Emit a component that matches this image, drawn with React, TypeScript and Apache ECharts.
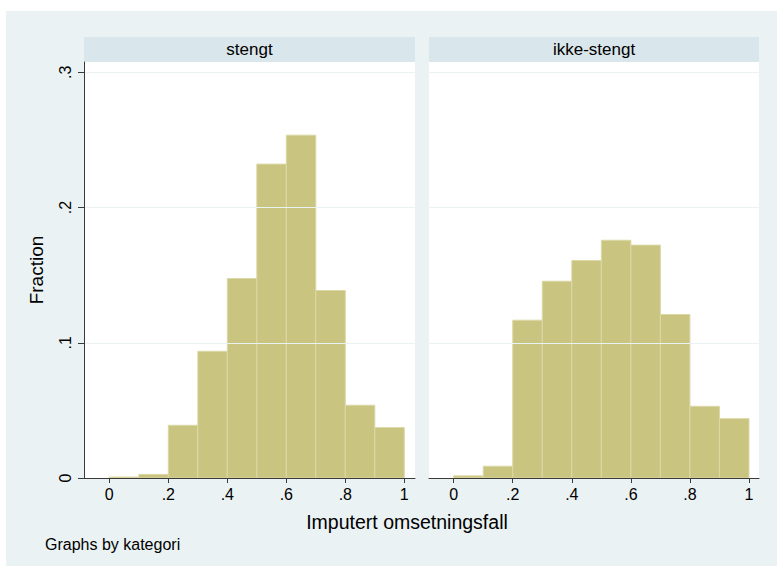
import { useEffect, useRef } from "react";
import * as echarts from "echarts";

// Histogram of imputed turnover drop, one panel per category
const panelTitles = ["stengt", "ikke-stengt"];
const binStarts = [0, 0.1, 0.2, 0.3, 0.4, 0.5, 0.6, 0.7, 0.8, 0.9];
const binEnds = [0.1, 0.2, 0.3, 0.4, 0.5, 0.6, 0.7, 0.8, 0.9, 1.0];
const stengtFraction = [0.0007, 0.0027, 0.039, 0.0937, 0.1475, 0.2321, 0.2535, 0.1386, 0.0538, 0.0373];
const ikkeStengtFraction = [0.0016, 0.0087, 0.1167, 0.1455, 0.1608, 0.1758, 0.1722, 0.1209, 0.053, 0.0439];
const xTicks = [0, 0.2, 0.4, 0.6, 0.8, 1];
const yTicks = [0, 0.1, 0.2, 0.3];
const xTitle = "Imputert omsetningsfall";
const yTitle = "Fraction";
const noteText = "Graphs by kategori";

const FONT = "'Liberation Sans', Arial, Helvetica, sans-serif";
const BG = "#EAF2F3";
const STRIP = "#D9E6EB";
const BAR_FILL = "#C9C47F";
const BAR_EDGE = "#DCD8A8";
const AXIS = "#3a3a3a";

const trimZero = (v: number) => {
  const s = String(Math.round(v * 10) / 10);
  return s.startsWith("0.") ? s.slice(1) : s;
};

const panelData = (values: number[]) =>
  values.map((v, i) => [binStarts[i], binEnds[i], v]);

export default function App() {
  const ref = useRef<HTMLDivElement>(null);

  useEffect(() => {
    if (!ref.current) return;
    const chart = echarts.init(ref.current, null, { renderer: "svg" });

    const grids = [
      { left: 84, top: 62, width: 331, height: 416 },
      { left: 429, top: 62, width: 330, height: 416 },
    ];
    const xRanges = [
      [-0.0858, 1.0362],
      [-0.0836, 1.0339],
    ];
    const series = [stengtFraction, ikkeStengtFraction];

    const option: any = {
      animation: false,
      backgroundColor: "#ffffff",
      textStyle: { fontFamily: FONT },
      grid: grids.map((g) => ({
        ...g,
        show: true,
        backgroundColor: "#ffffff",
        borderWidth: 0,
      })),
      xAxis: grids.map((_, i) => ({
        type: "value",
        gridIndex: i,
        min: xRanges[i][0],
        max: xRanges[i][1],
        z: 5,
        axisLine: { show: true, onZero: false, lineStyle: { color: AXIS, width: 1 } },
        axisTick: {
          show: true,
          inside: false,
          length: 5,
          customValues: xTicks,
          lineStyle: { color: AXIS, width: 1 },
        },
        axisLabel: {
          show: true,
          customValues: xTicks,
          margin: 8,
          fontSize: 16,
          color: "#000",
          fontFamily: FONT,
          formatter: (v: number) => trimZero(v),
        },
        splitLine: { show: false },
      })),
      yAxis: grids.map((_, i) => ({
        type: "value",
        gridIndex: i,
        min: 0,
        max: 0.3076,
        z: 5,
        axisLine: { show: i === 0, onZero: false, lineStyle: { color: AXIS, width: 1 } },
        axisTick: {
          show: i === 0,
          inside: false,
          length: 6,
          customValues: yTicks,
          lineStyle: { color: AXIS, width: 1 },
        },
        axisLabel: {
          show: i === 0,
          customValues: yTicks,
          rotate: 90,
          margin: 11,
          fontSize: 16,
          color: "#000",
          fontFamily: FONT,
          formatter: (v: number) => trimZero(v),
        },
        splitLine: { show: true, lineStyle: { color: BG, width: 1 } },
      })),
      series: series.map((vals, i) => ({
        type: "custom",
        xAxisIndex: i,
        yAxisIndex: i,
        encode: { x: [0, 1], y: 2 },
        data: panelData(vals),
        renderItem: (_p: any, api: any) => {
          const p0 = api.coord([api.value(0), api.value(2)]);
          const p1 = api.coord([api.value(1), 0]);
          return {
            type: "rect",
            shape: { x: p0[0], y: p0[1], width: p1[0] - p0[0], height: p1[1] - p0[1] },
            style: { fill: BAR_FILL, stroke: BAR_EDGE, lineWidth: 1 },
          };
        },
      })),
      graphic: [
        {
          type: "rect",
          z: -10,
          shape: { x: 6, y: 11, width: 771, height: 555 },
          style: { fill: BG },
        },
        ...grids.flatMap((g, i) => [
          {
            type: "rect",
            shape: { x: g.left, y: 37, width: g.width, height: 25 },
            style: { fill: STRIP },
          },
          {
            type: "text",
            x: g.left + g.width / 2,
            y: 49.5,
            style: {
              text: panelTitles[i],
              fill: "#000",
              fontSize: 17,
              fontFamily: FONT,
              align: "center",
              verticalAlign: "middle",
            },
          },
        ]),
        {
          type: "text",
          x: 407,
          y: 522,
          style: {
            text: xTitle,
            fill: "#000",
            fontSize: 19.5,
            fontFamily: FONT,
            align: "center",
            verticalAlign: "middle",
          },
        },
        {
          type: "text",
          x: 36,
          y: 270,
          rotation: Math.PI / 2,
          style: {
            text: yTitle,
            fill: "#000",
            fontSize: 19,
            fontFamily: FONT,
            align: "center",
            verticalAlign: "middle",
          },
        },
        {
          type: "text",
          x: 45,
          y: 544,
          style: {
            text: noteText,
            fill: "#000",
            fontSize: 16,
            fontFamily: FONT,
            align: "left",
            verticalAlign: "middle",
          },
        },
      ],
    };

    chart.setOption(option);
    return () => chart.dispose();
  }, []);

  return (
    <div
      ref={ref}
      style={{ position: "absolute", left: 0, top: 0, width: 777, height: 570 }}
    />
  );
}
